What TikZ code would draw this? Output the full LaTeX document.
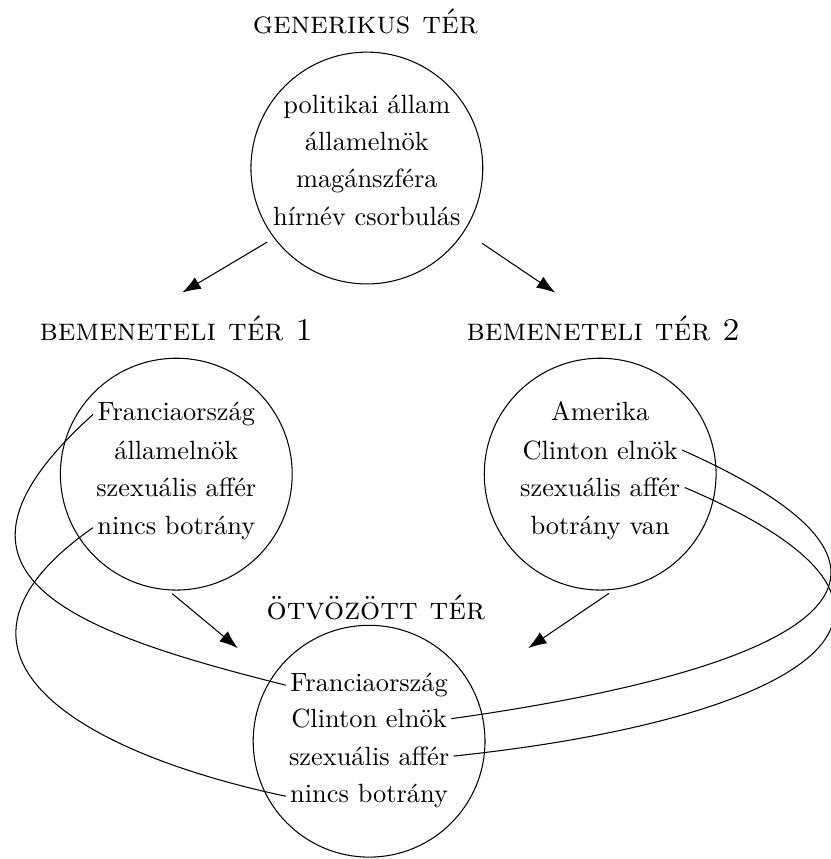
\documentclass[tikz,border=0pt]{standalone}
\usetikzlibrary{arrows.meta}

\begin{document}
\begin{tikzpicture}[
    ter/.style={draw, circle, minimum size=3.09cm, inner sep=0pt},
    sor/.style={anchor=base, inner sep=1.5pt},
    cim/.style={anchor=base, font=\large\scshape},
    nyil/.style={-{Latex[length=7pt, width=5pt]}}
  ]
    \useasboundingbox (0,0) rectangle (11.07,11.45);

    % generikus ter
    \node[cim] (GT) at (4.87,11.0) {generikus tér};
    \node[ter] (G) at (4.89,9.21) {};
    \node[sor] (G1) at (4.89,9.94) {politikai állam};
    \node[sor] (G2) at (4.89,9.44) {államelnök};
    \node[sor] (G3) at (4.89,8.95) {magánszféra};
    \node[sor] (G4) at (4.89,8.45) {hírnév csorbulás};

    % bemeneteli ter 1
    \node[cim] (ET) at (2.35,6.91) {bemeneteli tér 1};
    \node[ter] (E) at (2.35,5.13) {};
    \node[sor] (E1) at (2.35,5.84) {Franciaország};
    \node[sor] (E2) at (2.35,5.33) {államelnök};
    \node[sor] (E3) at (2.35,4.83) {szexuális affér};
    \node[sor] (E4) at (2.35,4.33) {nincs botrány};

    % bemeneteli ter 2
    \node[cim] (KT) at (8.04,6.91) {bemeneteli tér 2};
    \node[ter] (K) at (8.0,5.13) {};
    \node[sor] (K1) at (8.0,5.84) {Amerika};
    \node[sor] (K2) at (8.0,5.33) {Clinton elnök};
    \node[sor] (K3) at (8.0,4.83) {szexuális affér};
    \node[sor] (K4) at (8.0,4.33) {botrány van};

    % otvozott ter
    \node[cim] (OT) at (5.01,3.19) {ötvözött tér};
    \node[ter] (O) at (4.92,1.57) {};
    \node[sor] (O1) at (4.92,2.23) {Franciaország};
    \node[sor] (O2) at (4.92,1.75) {Clinton elnök};
    \node[sor] (O3) at (4.92,1.25) {szexuális affér};
    \node[sor] (O4) at (4.92,0.75) {nincs botrány};

    % nyilak
    \coordinate (v1) at (2.43,7.55);
    \coordinate (v2) at (7.40,7.55);
    \coordinate (v3) at (3.17,2.81);
    \coordinate (v4) at (7.04,2.81);
    \draw[nyil, shorten <=3pt] (G.217) -- (v1);
    \draw[nyil, shorten <=8pt] (G.327) -- (v2);
    \draw[nyil, shorten <=2pt] (E.266) -- (v3);
    \draw[nyil, shorten <=2.5pt] (K.277) -- (v4);

    % megfeleltetesek
    \draw (E1.west) to[out=222, in=166, looseness=1.8] (O1.west);
    \draw (E4.west) to[out=215, in=168, looseness=1.68] (O4.west);
    \draw (K2.east) to[out=-24, in=8, looseness=2.4] (O2.east);
    \draw (K3.east) to[out=-23, in=6, looseness=2.4] (O3.east);

\end{tikzpicture}
\end{document}
